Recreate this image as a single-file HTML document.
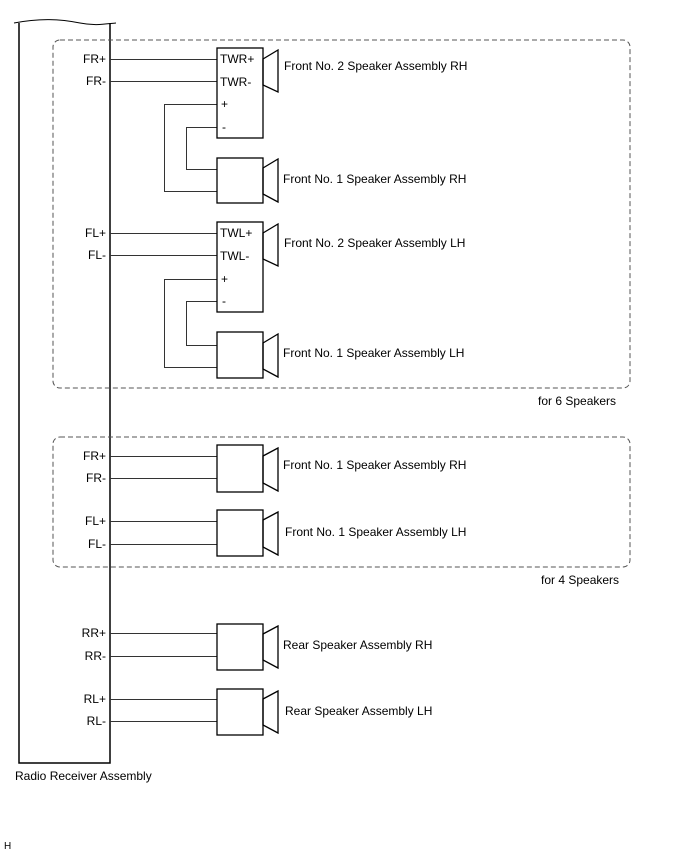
<!DOCTYPE html>
<html><head><meta charset="utf-8"><style>
html,body{margin:0;padding:0;background:#fff;}
svg{display:block;}
text{font-family:"Liberation Sans",Arial,sans-serif;font-size:12px;fill:#000;}
</style></head><body>
<svg width="688" height="852" viewBox="0 0 688 852" xmlns="http://www.w3.org/2000/svg">
<g fill="none" stroke="#000">
<path d="M19 23 L19 763 L110 763 L110 23" stroke-width="1.5"/>
<path d="M14 23 C40 18 60 19 80 23 C95 26 105 24 116 23" stroke-width="1"/>
<rect x="53" y="40" width="577" height="348" rx="7" stroke="#555" stroke-dasharray="5,3"/>
<rect x="53" y="437" width="577" height="130" rx="7" stroke="#555" stroke-dasharray="5,3"/>
<g stroke="#333" stroke-width="1">
<line x1="110" y1="59.5" x2="217" y2="59.5"/><line x1="110" y1="81.5" x2="217" y2="81.5"/>
<polyline points="217,104.5 164.5,104.5 164.5,191.5 217,191.5"/>
<polyline points="217,127.5 186.5,127.5 186.5,169.5 217,169.5"/>
<line x1="110" y1="233.5" x2="217" y2="233.5"/><line x1="110" y1="255.5" x2="217" y2="255.5"/>
<polyline points="217,279.5 164.5,279.5 164.5,367.5 217,367.5"/>
<polyline points="217,301.5 186.5,301.5 186.5,345.5 217,345.5"/>
<line x1="110" y1="456.5" x2="217" y2="456.5"/><line x1="110" y1="478.5" x2="217" y2="478.5"/>
<line x1="110" y1="521.5" x2="217" y2="521.5"/><line x1="110" y1="544.5" x2="217" y2="544.5"/>
<line x1="110" y1="633.5" x2="217" y2="633.5"/><line x1="110" y1="656.5" x2="217" y2="656.5"/>
<line x1="110" y1="699.5" x2="217" y2="699.5"/><line x1="110" y1="721.5" x2="217" y2="721.5"/>
</g>
<g stroke-width="1.3">
<rect x="217" y="48" width="46" height="90"/>
<rect x="217" y="158" width="46" height="45"/>
<rect x="217" y="222" width="46" height="90"/>
<rect x="217" y="332" width="46" height="46"/>
<rect x="217" y="445" width="46" height="47"/>
<rect x="217" y="510" width="46" height="46"/>
<rect x="217" y="624" width="46" height="46"/>
<rect x="217" y="689" width="46" height="46"/>
<polygon points="263,59 278,50 278,92 263,85"/>
<polygon points="263,168 278,159 278,202 263,194"/>
<polygon points="263,233 278,224 278,266 263,259"/>
<polygon points="263,343 278,334 278,377 263,369"/>
<polygon points="263,456 278,448 278,491 263,483"/>
<polygon points="263,520 278,512 278,555 263,547"/>
<polygon points="263,634 278,626 278,668 263,660"/>
<polygon points="263,699 278,691 278,733 263,725"/>
</g>
</g>
<g text-anchor="end">
<text x="106" y="63">FR+</text><text x="106" y="85">FR-</text>
<text x="106" y="237">FL+</text><text x="106" y="259">FL-</text>
<text x="106" y="460">FR+</text><text x="106" y="482">FR-</text>
<text x="106" y="525">FL+</text><text x="106" y="548">FL-</text>
<text x="106" y="637">RR+</text><text x="106" y="660">RR-</text>
<text x="106" y="703">RL+</text><text x="106" y="725">RL-</text>
</g>
<text x="220" y="63">TWR+</text><text x="220" y="86">TWR-</text>
<text x="221" y="108">+</text><text x="222" y="131">-</text>
<text x="220" y="237">TWL+</text><text x="220" y="260">TWL-</text>
<text x="221" y="283">+</text><text x="222" y="305">-</text>
<text x="284" y="70">Front No. 2 Speaker Assembly RH</text>
<text x="283" y="183">Front No. 1 Speaker Assembly RH</text>
<text x="284" y="247">Front No. 2 Speaker Assembly LH</text>
<text x="283" y="357">Front No. 1 Speaker Assembly LH</text>
<text x="283" y="469">Front No. 1 Speaker Assembly RH</text>
<text x="285" y="536">Front No. 1 Speaker Assembly LH</text>
<text x="283" y="649">Rear Speaker Assembly RH</text>
<text x="285" y="715">Rear Speaker Assembly LH</text>
<text x="538" y="405">for 6 Speakers</text>
<text x="541" y="584">for 4 Speakers</text>
<text x="15" y="780">Radio Receiver Assembly</text>
<text x="4" y="849" style="font-size:10px">H</text>
</svg>
</body></html>
